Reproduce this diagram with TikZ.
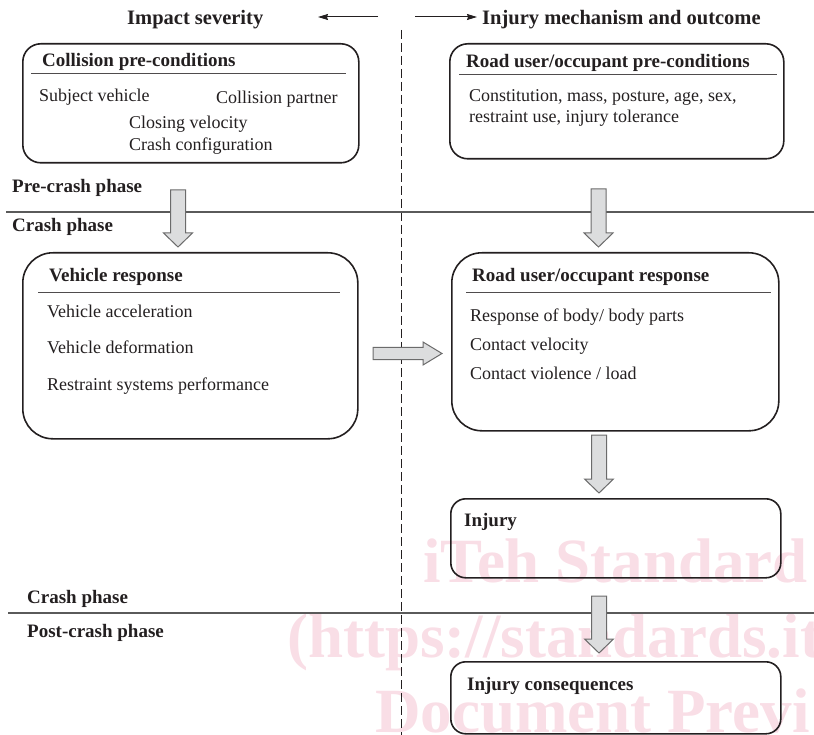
\documentclass[tikz,border=0pt]{standalone}
\usepackage{fontspec}
\setmainfont{Liberation Serif}
\usetikzlibrary{arrows.meta}
\definecolor{ink}{HTML}{231F20}
\definecolor{wm}{RGB}{249,222,230}
\definecolor{blkfill}{HTML}{DCDDDE}
\definecolor{blkline}{HTML}{6B6B6B}
\definecolor{phasegray}{HTML}{5A5A5A}
\begin{document}
\begin{tikzpicture}[x=1pt,y=-1pt,
  box/.style={draw=ink, line width=1.6pt, rounded corners=#1, anchor=north west, inner sep=0pt},
  box/.default=16pt,
  head/.style={anchor=base west, inner sep=0pt, text=ink, font=\fontsize{20.5}{24}\selectfont\bfseries},
  ttl/.style={anchor=base west, inner sep=0pt, text=ink, font=\fontsize{19}{22}\selectfont\bfseries},
  item/.style={anchor=base west, inner sep=0pt, text=ink, font=\fontsize{18}{21}\selectfont},
  wmark/.style={anchor=base west, inner sep=0pt, text=wm, font=\fontsize{63}{63}\selectfont\bfseries},
  uline/.style={draw=ink!80, line width=1pt},
  phase/.style={draw=phasegray, line width=1.1pt},
  divider/.style={draw=ink, line width=1pt, dash pattern=on 9pt off 4pt},
  tarrow/.style={draw=ink, line width=1pt, -{Stealth[length=10pt,width=6pt,inset=1pt]}},
  blk/.style={draw=blkline, fill=blkfill, line width=1pt, line join=miter},
  darrow/.pic={\draw[blk] (-7.5,0) -- (7.5,0) -- (7.5,#1-14) -- (14.5,#1-14) -- (0,#1) -- (-14.5,#1-14) -- (-7.5,#1-14) -- cycle;},
  rarrow/.pic={\draw[blk] (0,-6) -- (#1-19,-6) -- (#1-19,-11.5) -- (#1,0) -- (#1-19,11.5) -- (#1-19,6) -- (0,6) -- cycle;}
]
\useasboundingbox (0,0) rectangle (814,735);

% watermark
\node[wmark] (w1) at (423,582) {iTeh Standard};
\node[wmark] (w2) at (287,657) {(https://standards.it};
\node[wmark] (w3) at (375,732) {Document Previ};

% headings and direction arrows
\node[head] (h1) at (127,25) {Impact severity};
\node[head] (h2) at (482,25) {Injury mechanism and outcome};
\coordinate (la) at (378,17); \coordinate (lb) at (318,17);
\coordinate (ra) at (415,17); \coordinate (rb) at (477,17);
\draw[tarrow] (la) -- (lb);
\draw[tarrow] (ra) -- (rb);

% divider and phase lines
\coordinate (d1) at (401,30); \coordinate (d2) at (401,735);
\draw[divider] (d1) -- (d2);
\coordinate (p1a) at (6,212); \coordinate (p1b) at (814,212);
\draw[phase] (p1a) -- (p1b);
\coordinate (p2a) at (8,613); \coordinate (p2b) at (814,613);
\draw[phase] (p2a) -- (p2b);
\node[ttl] (ph1) at (12,193) {Pre-crash phase};
\node[ttl] (ph2) at (12,231.5) {Crash phase};
\node[ttl] (ph3) at (27,603) {Crash phase};
\node[ttl] (ph4) at (27,637) {Post-crash phase};

% box 1
\node[box=18pt, minimum width=336pt, minimum height=119pt] (b1) at (22,43) {};
\node[ttl] (b1t) at (42,66.5) {Collision pre-conditions};
\draw[uline] (31,74) -- (346,74);
\node[item] (b1a) at (39,101.5) {Subject vehicle};
\node[item] (b1b) at (216,104) {Collision partner};
\node[item] (b1c) at (129,129) {Closing velocity};
\node[item] (b1d) at (129,150.5) {Crash configuration};

% box 2
\node[box=18pt, minimum width=334pt, minimum height=115pt] (b2) at (449,43) {};
\node[ttl] (b2t) at (466,68) {Road user/occupant pre-conditions};
\draw[uline] (459,75) -- (777,75);
\node[item] (b2a) at (469,101.5) {Constitution, mass, posture, age, sex,};
\node[item] (b2b) at (469,123) {restraint use, injury tolerance};

% box 3
\node[box=30pt, minimum width=335pt, minimum height=186pt] (b3) at (22,252) {};
\node[ttl] (b3t) at (49,281.5) {Vehicle response};
\draw[uline] (38,293) -- (340,293);
\node[item] (b3a) at (47,318) {Vehicle acceleration};
\node[item] (b3b) at (47,353) {Vehicle deformation};
\node[item] (b3c) at (47,390.5) {Restraint systems performance};

% box 4
\node[box=30pt, minimum width=327pt, minimum height=178pt] (b4) at (451,252) {};
\node[ttl] (b4t) at (472,281.5) {Road user/occupant response};
\draw[uline] (466,293) -- (771,293);
\node[item] (b4a) at (470,321.5) {Response of body/ body parts};
\node[item] (b4b) at (470,350) {Contact velocity};
\node[item] (b4c) at (470,379) {Contact violence / load};

% box 5
\node[box=15pt, minimum width=330pt, minimum height=79pt] (b5) at (450,498) {};
\node[ttl] (b5t) at (464,526) {Injury};

% box 6
\node[box=15pt, minimum width=330pt, minimum height=72pt] (b6) at (450,661) {};
\node[ttl] (b6t) at (467,690) {Injury consequences};

% block arrows
\pic (a1) at (178,190) {darrow=57};
\pic (a2) at (598.5,189) {darrow=58};
\pic (a3) at (599,435) {darrow=58};
\pic (a4) at (599,596) {darrow=57};
\pic (a5) at (373,353.5) {rarrow=69};
\end{tikzpicture}
\end{document}
